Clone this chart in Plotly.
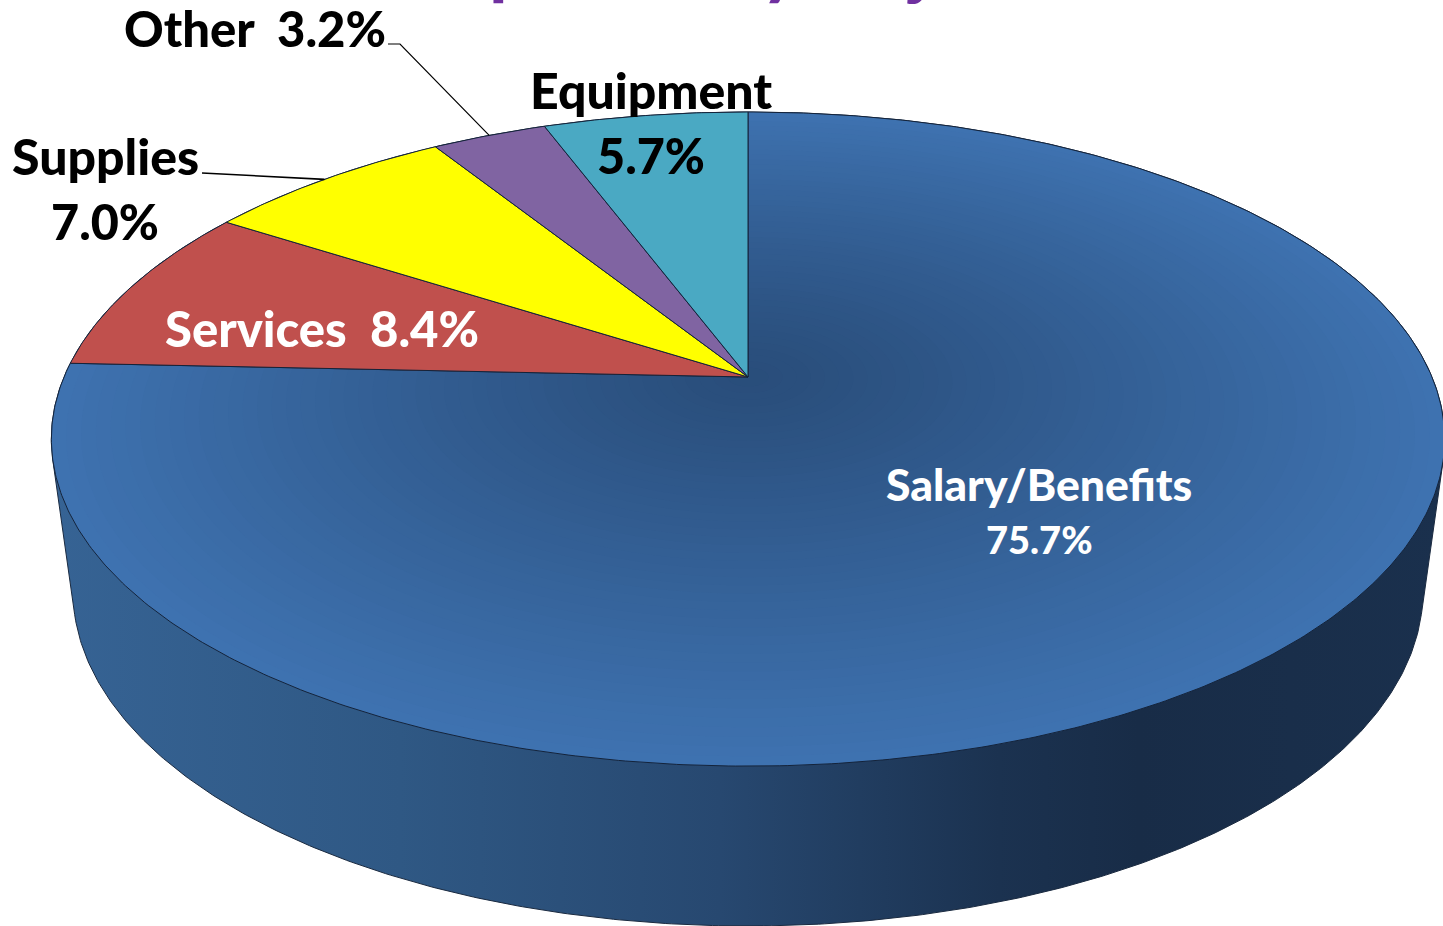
import numpy as np
import plotly.graph_objects as go

# ---- data (clockwise from 12 o'clock) ----
categories = ["Salary/Benefits", "Services", "Supplies", "Other", "Equipment"]
shares = [75.7, 8.4, 7.0, 3.2, 5.7]
slice_colors = ["#3e72b0", "#c0504d", "#ffff00", "#8064a2", "#4aa9c3"]
title_text = "Expenses by Object"

# ---- perspective of the pie's top face (screen px) ----
APEX_X, APEX_Y, SX, SY, TILT = 748.0, 377.0, 684.0, 315.3, -0.1897
BASE_CX, BASE_CY, BASE_RX, BASE_RY = 748.0, 591.0, 675.0, 335.0


def project(theta, r=1.0):
    """theta: clockwise from 12 o'clock in radians, r: disc radius 0..1."""
    u = r * np.sin(theta)
    v = -r * np.cos(theta)
    w = 1 + TILT * v
    return APEX_X + SX * u / w, APEX_Y + SY * v / w


def hull(x, y):
    pts = sorted(set(zip(np.round(x, 3).tolist(), np.round(y, 3).tolist())))

    def half(points):
        out = []
        for p in points:
            while len(out) > 1 and (out[-1][0] - out[-2][0]) * (p[1] - out[-2][1]) - (out[-1][1] - out[-2][1]) * (p[0] - out[-2][0]) <= 0:
                out.pop()
            out.append(p)
        return out[:-1]

    h = half(pts) + half(pts[::-1])
    h.append(h[0])
    return [p[0] for p in h], [p[1] for p in h]


def mix(a, b, t):
    ca = [int(a[i:i + 2], 16) for i in (1, 3, 5)]
    cb = [int(b[i:i + 2], 16) for i in (1, 3, 5)]
    return "rgb(%d,%d,%d)" % tuple(round(p + (q - p) * t) for p, q in zip(ca, cb))


fractions = np.array(shares) / sum(shares)
edges = np.concatenate([[0], np.cumsum(fractions)]) * 2 * np.pi
EDGE = "#14233a"

fig = go.Figure()

# side wall: silhouette of the top and base ellipses
t = np.linspace(0, 2 * np.pi, 721)
tx, ty = project(t)
bx, by = BASE_CX + BASE_RX * np.cos(t), BASE_CY + BASE_RY * np.sin(t)
hx, hy = hull(np.concatenate([tx, bx]), np.concatenate([ty, by]))
fig.add_trace(go.Scatter(
    x=hx, y=hy, mode="lines", fill="toself",
    line=dict(color="#1a2a40", width=1),
    fillgradient=dict(type="horizontal", colorscale=[
        [0.0, "#366394"], [0.25, "#2f5884"], [0.48, "#274870"],
        [0.68, "#1b3250"], [0.78, "#182c47"], [1.0, "#1a304d"]]),
    hoverinfo="skip", showlegend=False))

# slices
for i, name in enumerate(categories):
    th = np.linspace(edges[i], edges[i + 1], max(3, int(fractions[i] * 720)))
    if i == 0:
        # large slice: radial shading built from nested copies of the sector
        for r in np.linspace(1, 0.03, 48):
            sx, sy = project(th, r)
            ax, ay = project(np.array([0.0]), 0)
            fig.add_trace(go.Scatter(
                x=np.r_[ax, sx, ax], y=np.r_[ay, sy, ay], mode="none", fill="toself",
                fillcolor=mix("#294d7a", slice_colors[0], r ** 1.15),
                hoverinfo="skip", showlegend=False))
    sx, sy = project(th)
    ax, ay = project(np.array([0.0]), 0)
    fig.add_trace(go.Scatter(
        x=np.r_[ax, sx, ax], y=np.r_[ay, sy, ay], mode="lines",
        fill=None if i == 0 else "toself",
        fillcolor=None if i == 0 else slice_colors[i],
        line=dict(color=EDGE, width=1),
        hoverinfo="skip", showlegend=False))


def mid_rim(i):
    return project(np.array([(edges[i] + edges[i + 1]) / 2]))


# leader lines
ox, oy = mid_rim(3)
fig.add_trace(go.Scatter(x=[388, 400, ox[0]], y=[44, 44, oy[0]], mode="lines",
                         line=dict(color="black", width=1.2), hoverinfo="skip", showlegend=False))
sx, sy = mid_rim(2)
fig.add_trace(go.Scatter(x=[202, sx[0]], y=[173, sy[0]], mode="lines",
                         line=dict(color="black", width=1.6), hoverinfo="skip", showlegend=False))

FONT = "Lato, Carlito, Calibri, sans-serif"


def label(x, y, text, color="black", size=48):
    fig.add_annotation(x=x, y=y, text=text, showarrow=False, xanchor="center",
                       yanchor="middle", font=dict(family=FONT, size=size, color=color, weight=900))


pct = ["%.1f%%" % s for s in shares]
label(1039, 483, categories[0], "white", 44.5)
label(1039, 539, pct[0], "white", 38)
label(322, 328, categories[1] + "&nbsp;&nbsp;" + pct[1], "white", 49)
label(105, 156, categories[2], size=50)
label(105, 221, pct[2], size=48.5)
label(255, 28, categories[3] + "&nbsp;&nbsp;" + pct[3], size=49)
label(651, 90, categories[4], size=50)
label(651, 155, pct[4], size=48.5)
fig.add_annotation(x=719, xref="x", y=1, yref="paper", yshift=36, text=title_text, showarrow=False,
                   xanchor="center", yanchor="middle",
                   font=dict(family=FONT, size=70, color="#7030a0", weight=900))

fig.update_layout(
    width=1443, height=926, margin=dict(l=0, r=0, t=0, b=0),
    paper_bgcolor="white", plot_bgcolor="white",
    xaxis=dict(range=[0, 1443], visible=False),
    yaxis=dict(range=[926, 0], visible=False),
)
fig.write_html("out.html", config=dict(displayModeBar=False),
               post_script="document.body.style.margin='0';document.body.style.overflow='hidden';")
